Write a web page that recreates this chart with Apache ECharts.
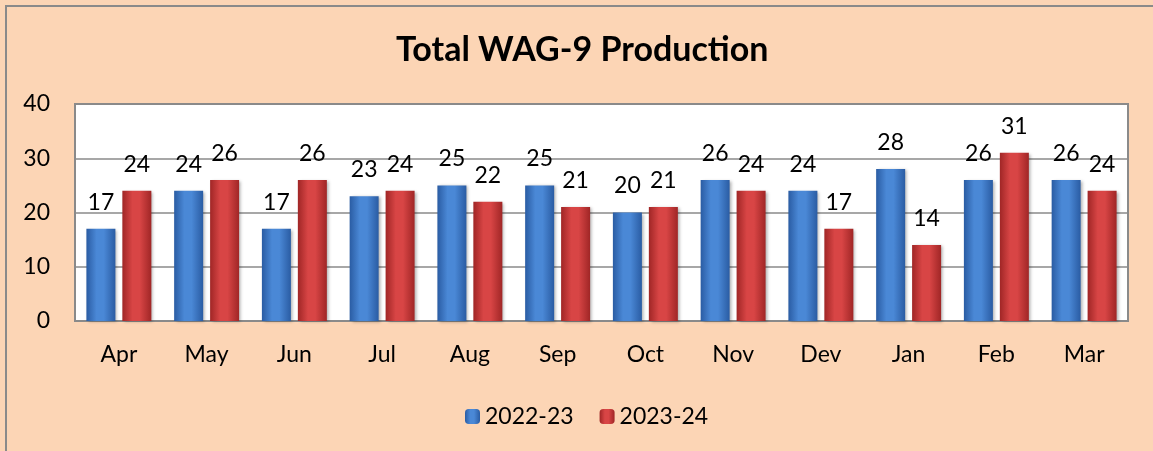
<!DOCTYPE html>
<html>
<head>
<meta charset="utf-8">
<script src="https://cdn.jsdelivr.net/npm/echarts@6/dist/echarts.min.js"></script>
<style>
html,body{margin:0;padding:0;background:#FCD5B5;}
#chart{width:1153px;height:451px;}
</style>
</head>
<body>
<div id="chart"></div>
<script>
var categories = ['Apr','May','Jun','Jul','Aug','Sep','Oct','Nov','Dev','Jan','Feb','Mar'];
var series2223 = [17,24,17,23,25,25,20,26,24,28,26,26];
var series2324 = [24,26,26,24,22,21,21,24,17,14,31,24];
var seriesNames = ['2022-23','2023-24'];
var yTicks = {min:0, max:40, interval:10};

var FONT = 'Lato';
function grad(dark, light){
  return new echarts.graphic.LinearGradient(0,0,1,0,[
    {offset:0,color:dark},{offset:0.35,color:light},{offset:0.6,color:light},{offset:1,color:dark}
  ]);
}
var blue = grad('#2A5CA3','#4A88D6');
var red = grad('#A02626','#D84545');

var chart = echarts.init(document.getElementById('chart'));
var labelCfg = {show:true, position:'top', distance:15, color:'#000', fontFamily:FONT, fontSize:23};
chart.setOption({
  backgroundColor:'#FCD5B5',
  animation:false,
  title:{text:'Total WAG-9 Production', left:391, top:28,
    textStyle:{fontFamily:FONT, fontWeight:'bold', fontSize:34, color:'#000'}},
  legend:{data:seriesNames, left:460, top:400, itemWidth:15, itemHeight:15, itemGap:26,
    textStyle:{fontFamily:FONT, fontSize:23, color:'#000'}},
  grid:{left:75, right:25, top:104, bottom:130, show:true, backgroundColor:'#fff',
    borderColor:'#8a8a8a', borderWidth:2, containLabel:false},
  xAxis:{type:'category', data:categories,
    axisLine:{show:true, lineStyle:{color:'#8a8a8a', width:2}},
    axisTick:{show:false},
    axisLabel:{fontFamily:FONT, fontSize:23, color:'#000', margin:22}},
  yAxis:{type:'value', min:yTicks.min, max:yTicks.max, interval:yTicks.interval,
    axisLine:{show:false}, axisTick:{show:false},
    splitLine:{lineStyle:{color:'#8a8a8a', width:1.5}},
    axisLabel:{fontFamily:FONT, fontSize:23, color:'#000', margin:25}},
  series:[
    {name:seriesNames[0], type:'bar', data:series2223, barWidth:29, barGap:'24%',
      itemStyle:{color:blue, shadowColor:'rgba(0,0,0,0.3)', shadowBlur:3, shadowOffsetX:2, shadowOffsetY:1},
      label:labelCfg},
    {name:seriesNames[1], type:'bar', data:series2324, barWidth:29, barGap:'24%',
      itemStyle:{color:red, shadowColor:'rgba(0,0,0,0.3)', shadowBlur:3, shadowOffsetX:2, shadowOffsetY:1},
      label:labelCfg}
  ],
  graphic:[{type:'polyline', shape:{points:[[6,451],[6,6],[1153,6]]},
    style:{stroke:'#8a8a8a', lineWidth:2, fill:null}, silent:true}]
});
</script>
</body>
</html>
